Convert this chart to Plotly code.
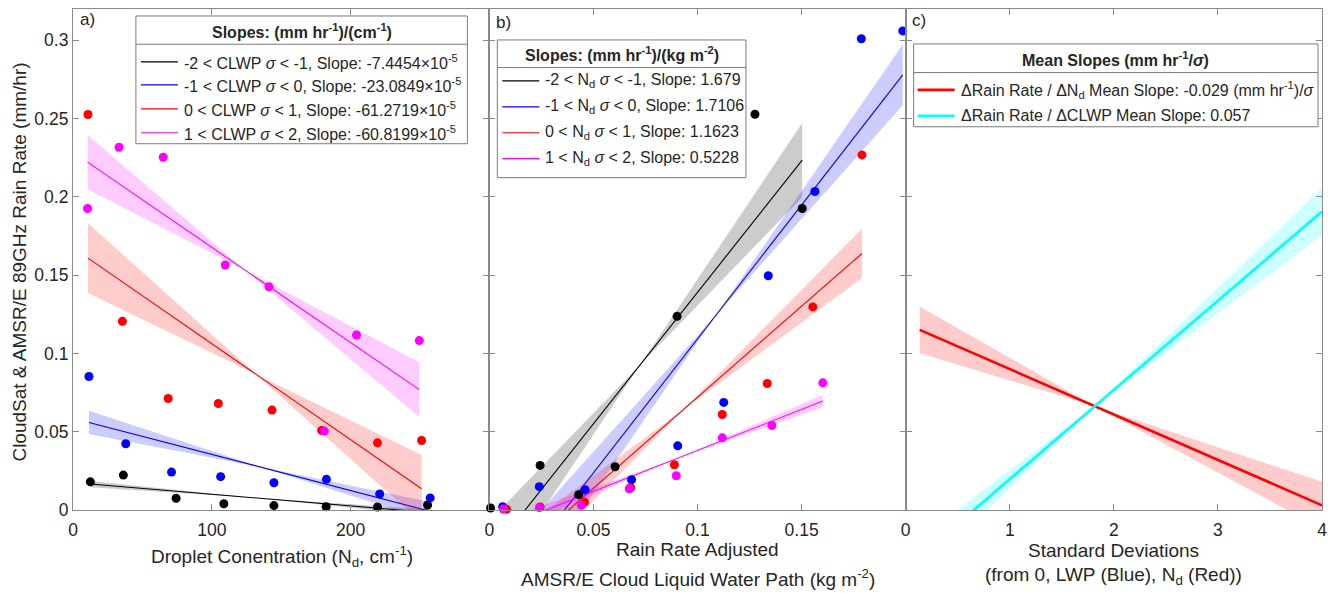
import plotly.graph_objects as go

# ---------------- data ----------------
# Panel a: rain rate vs droplet concentration, binned by CLWP sigma
a_names = ["-2 < CLWP <i>σ</i> < -1", "-1 < CLWP <i>σ</i> < 0",
           "0 < CLWP <i>σ</i> < 1", "1 < CLWP <i>σ</i> < 2"]
a_slopes = [-7.4454e-5, -23.0849e-5, -61.2719e-5, -60.8199e-5]
a_intercepts = [0.0175, 0.0586, 0.1675, 0.2286]
a_x = [
    [12.5, 36.3, 74.3, 108.7, 144.8, 182.4, 219.4, 255.5],
    [11.5, 38.0, 71.0, 106.4, 144.8, 182.6, 221.0, 257.4],
    [10.8, 35.6, 68.6, 104.7, 143.4, 179.2, 219.4, 251.2],
    [10.5, 33.2, 65.0, 109.7, 141.2, 181.1, 204.3, 249.5],
]
a_y = [
    [0.0180, 0.0223, 0.0075, 0.0040, 0.0028, 0.0021, 0.0019, 0.0032],
    [0.0853, 0.0423, 0.0242, 0.0213, 0.0174, 0.0196, 0.0102, 0.0077],
    [0.2526, 0.1205, 0.0712, 0.0680, 0.0638, 0.0508, 0.0429, 0.0444],
    [0.1926, 0.2317, 0.2253, 0.1565, 0.1426, 0.0504, 0.1118, 0.1082],
]
# confidence band: half-width at left end, pivot x, half-width at right end
a_band_left = [0.0020, 0.0074, 0.0223, 0.0173]
a_band_pivot = [130, 135, 132, 124]
a_band_right = [0.0020, 0.0060, 0.0216, 0.0175]

# Panel b: rain rate vs cloud liquid water path, binned by Nd sigma
b_names = ["-2 < N<sub>d</sub> <i>σ</i> < -1", "-1 < N<sub>d</sub> <i>σ</i> < 0",
           "0 < N<sub>d</sub> <i>σ</i> < 1", "1 < N<sub>d</sub> <i>σ</i> < 2"]
b_slopes = [1.679, 1.7106, 1.1623, 0.5228]
b_intercepts = [-0.0289, -0.0618, -0.0442, -0.0142]
b_x = [
    [0.0006, 0.0244, 0.0429, 0.0604, 0.0902, 0.1276, 0.1503],
    [0.0064, 0.0240, 0.0460, 0.0683, 0.0905, 0.1126, 0.1340, 0.1564, 0.1787, 0.1986],
    [0.0083, 0.0244, 0.0457, 0.0679, 0.0889, 0.1119, 0.1335, 0.1554, 0.1790],
    [0.0067, 0.0240, 0.0442, 0.0672, 0.0898, 0.1119, 0.1357, 0.1602],
]
b_y = [
    [0.0013, 0.0285, 0.0098, 0.0276, 0.1237, 0.2528, 0.1926],
    [0.0021, 0.0149, 0.0129, 0.0193, 0.0410, 0.0687, 0.1496, 0.2034, 0.3010, 0.3060],
    [0.0004, 0.0019, 0.0049, 0.0142, 0.0289, 0.0610, 0.0808, 0.1297, 0.2268],
    [0.0006, 0.0015, 0.0030, 0.0136, 0.0219, 0.0461, 0.0540, 0.0812],
]
b_band_left = [0.0219, 0.0234, 0.0157, 0.0047]
b_band_pivot = [0.0725, 0.1088, 0.0933, 0.0900]
b_band_right = [0.0237, 0.0194, 0.0158, 0.0040]

# Panel c: mean slopes per standard deviation
c_names = ["ΔRain Rate / ΔN<sub>d</sub> Mean Slope: -0.029 (mm hr<sup>-1</sup>)/<i>σ</i>",
           "ΔRain Rate / ΔCLWP Mean Slope: 0.057"]
c_slopes = [-0.029, 0.057]
c_intercepts = [0.1190, -0.0373]
c_x_range = [0.135, 4.0]
c_band_left = [0.0149, 0.0116]
c_band_pivot = [1.817, 1.817]
c_band_right = [0.0150, 0.0150]

colors4 = ["#000000", "#0000ff", "#ff0000", "#ff00ff"]
fills4 = ["rgba(0,0,0,0.2)", "rgba(0,0,255,0.2)", "rgba(255,0,0,0.2)", "rgba(255,0,255,0.2)"]
c_colors = ["#ff0000", "#00ffff"]
c_fills = ["rgba(255,0,0,0.2)", "rgba(0,255,255,0.2)"]

FONT = "Liberation Sans, Arial, Helvetica, sans-serif"
TXT = "#262626"
AXC = "#8a8a8a"

fig = go.Figure()


def add_fit(xa, ya, slope, icpt, x0, x1, hw0, xp, hw1, color, fill, lw):
    f = lambda x: icpt + slope * x
    bx = [x0, xp, x1, x1, xp, x0, x0]
    by = [f(x0) + hw0, f(xp), f(x1) + hw1, f(x1) - hw1, f(xp), f(x0) - hw0, f(x0) + hw0]
    fig.add_trace(go.Scatter(x=bx, y=by, xaxis=xa, yaxis=ya, mode="lines", fill="toself",
                             fillcolor=fill, line=dict(width=0), hoverinfo="skip",
                             showlegend=False))
    fig.add_trace(go.Scatter(x=[x0, x1], y=[f(x0), f(x1)], xaxis=xa, yaxis=ya, mode="lines",
                             line=dict(color=color, width=lw), showlegend=False))


def add_points(xa, ya, xs, ys, color):
    fig.add_trace(go.Scatter(x=xs, y=ys, xaxis=xa, yaxis=ya, mode="markers",
                             marker=dict(color=color, size=9, line=dict(width=0)),
                             cliponaxis=False, showlegend=False))


for i in range(4):
    add_fit("x", "y", a_slopes[i], a_intercepts[i], min(a_x[i]), max(a_x[i]),
            a_band_left[i], a_band_pivot[i], a_band_right[i], colors4[i], fills4[i], 1.1)
    add_fit("x2", "y2", b_slopes[i], b_intercepts[i], min(b_x[i]), max(b_x[i]),
            b_band_left[i], b_band_pivot[i], b_band_right[i], colors4[i], fills4[i], 1.1)
for i in range(2):
    add_fit("x3", "y3", c_slopes[i], c_intercepts[i], c_x_range[0], c_x_range[1],
            c_band_left[i], c_band_pivot[i], c_band_right[i], c_colors[i], c_fills[i], 2.6)
for i in range(4):
    add_points("x", "y", a_x[i], a_y[i], colors4[i])
for i in range(4):
    add_points("x2", "y2", b_x[i], b_y[i], colors4[i])

# ---------------- axes ----------------
W, H = 1335, 593
ML, MR, MT, MB = 73, 11, 8, 83
PW, PH = W - ML - MR, H - MT - MB

axis_common = dict(showline=True, linecolor=AXC, linewidth=1.2, mirror="allticks",
                   ticks="inside", ticklen=6, tickcolor=AXC, tickwidth=1.2,
                   showgrid=False, zeroline=False,
                   tickfont=dict(family=FONT, size=17.5, color=TXT))
x_common = dict(axis_common, ticklabelstandoff=4)
d = 1 / 3
fig.update_layout(
    xaxis=dict(domain=[0, d], range=[0, 300], tickvals=[0, 100, 200], anchor="y", **x_common),
    xaxis2=dict(domain=[d, 2 * d], range=[0, 0.2], tickvals=[0, 0.05, 0.1, 0.15],
                ticktext=["0", "0.05", "0.1", "0.15"], anchor="y2", **x_common),
    xaxis3=dict(domain=[2 * d, 1], range=[0, 4], tickvals=[0, 1, 2, 3, 4], anchor="y3", **x_common),
    yaxis=dict(domain=[0, 1], range=[0, 0.32], tickvals=[0, 0.05, 0.1, 0.15, 0.2, 0.25, 0.3],
               ticktext=["0", "0.05", "0.1", "0.15", "0.2", "0.25", "0.3"], anchor="x", **axis_common),
    yaxis2=dict(domain=[0, 1], range=[0, 0.32], tickvals=[0, 0.05, 0.1, 0.15, 0.2, 0.25, 0.3],
                showticklabels=False, anchor="x2", **axis_common),
    yaxis3=dict(domain=[0, 1], range=[0, 0.32], tickvals=[0, 0.05, 0.1, 0.15, 0.2, 0.25, 0.3],
                showticklabels=False, anchor="x3", **axis_common),
)


def px(x):
    return (x - ML) / PW


def py(y):
    return (H - MB - y) / PH


annotations = []
shapes = []


def text(x, y, s, size=19, xanchor="center", yanchor="middle", bold=False, angle=0):
    if bold:
        s = "<b>" + s + "</b>"
    annotations.append(dict(x=px(x), y=py(y), xref="paper", yref="paper", text=s,
                            showarrow=False, xanchor=xanchor, yanchor=yanchor,
                            textangle=angle,
                            font=dict(family=FONT, size=size, color=TXT)))


# axis titles
text(19, 262, "CloudSat & AMSR/E 89GHz Rain Rate (mm/hr)", angle=-90)
text(282, 557, "Droplet Conentration (N<sub>d</sub>, cm<sup>-1</sup>)")
text(699, 550, "Rain Rate Adjusted")
text(699, 578, "AMSR/E Cloud Liquid Water Path (kg m<sup>-2</sup>)")
text(1115, 551, "Standard Deviations")
text(1115, 576, "(from 0, LWP (Blue), N<sub>d</sub> (Red))")

# panel labels
text(78, 19, "a)", size=17, xanchor="left")
text(495, 22, "b)", size=17, xanchor="left")
text(911, 20, "c)", size=17, xanchor="left")


def legend_box(x0, y0, x1, y1, ysep, title, title_y, entries, ys, line_x0, line_x1, cols, lw, size):
    shapes.append(dict(type="rect", xref="paper", yref="paper", x0=px(x0), x1=px(x1),
                       y0=py(y0), y1=py(y1), fillcolor="white",
                       line=dict(color="#7a7a7a", width=1)))
    shapes.append(dict(type="line", xref="paper", yref="paper", x0=px(x0), x1=px(x1),
                       y0=py(ysep), y1=py(ysep), line=dict(color="#7a7a7a", width=1)))
    text((x0 + x1) / 2, title_y, title, size=size, bold=True)
    for s, yy, c in zip(entries, ys, cols):
        shapes.append(dict(type="line", xref="paper", yref="paper", x0=px(line_x0), x1=px(line_x1),
                           y0=py(yy), y1=py(yy), line=dict(color=c, width=lw)))
        text(line_x1 + 4, yy, s, size=size, xanchor="left")


a_entries = []
for n, s in zip(a_names, a_slopes):
    a_entries.append(f"{n}, Slope: {s * 1e5:.4f}×10<sup>-5</sup>")
legend_box(136, 15, 468, 143, 43.3, "Slopes: (mm hr<sup>-1</sup>)/(cm<sup>-1</sup>)", 30,
           a_entries, [61, 84, 108, 132], 141, 178, colors4, 1.2, 16)

b_entries = []
for n, s in zip(b_names, b_slopes):
    b_entries.append(f"{n}, Slope: {s:g}")
legend_box(498, 39, 747, 177, 66.7, "Slopes: (mm hr<sup>-1</sup>)/(kg m<sup>-2</sup>)", 53,
           b_entries, [80, 106, 132, 158], 503, 540, colors4, 1.2, 16)

legend_box(915, 43, 1320, 126, 71.7, "Mean Slopes (mm hr<sup>-1</sup>/<i>σ</i>)", 58,
           c_names, [89, 115], 919, 956, c_colors, 2.6, 16)

fig.update_layout(
    width=W, height=H,
    margin=dict(l=ML, r=MR, t=MT, b=MB),
    paper_bgcolor="white", plot_bgcolor="white",
    showlegend=False,
    annotations=annotations, shapes=shapes,
    font=dict(family=FONT, size=17.5, color=TXT),
)

fig.write_html("out.html")
